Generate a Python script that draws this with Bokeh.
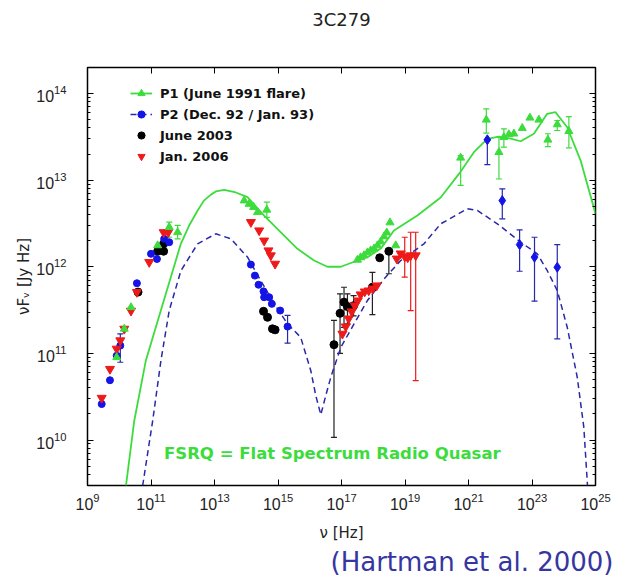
from bokeh.plotting import figure
from bokeh.models import (ColumnDataSource, Whisker, TeeHead, FixedTicker,
                          LogAxis, Label, Legend, LegendItem, Title)
from bokeh.embed import file_html
from bokeh.resources import INLINE

# ---------------- model curves ----------------
p1_model_nu = [1.63e10, 2.97e10, 6.9e10, 2.95e11, 8.7e11, 1.56e12, 2.94e12, 4.63e12,
               7.7e12, 1.1e13, 2.02e13,
               4.7e13, 1.1e14, 3.66e14, 1.23e15, 4.1e15, 1.37e16, 3.6e16, 9.5e16,
               3.2e17, 6.6e17, 1.72e18, 4.5e18, 2.45e19, 1.33e20, 5.0e20, 1.48e21,
               3.92e21, 9.1e21, 2.12e22, 4.4e22, 1.15e23, 3.0e23, 5.5e23, 1.29e24,
               3.4e24, 1.0e25]
p1_model_f = [2.97e9, 1.67e10, 8.3e10, 4.9e11, 1.84e12, 2.95e12, 4.46e12, 5.8e12,
              6.8e12, 7.4e12, 7.7e12,
              7.2e12, 6.35e12, 3.9e12, 2.5e12, 1.61e12, 1.18e12, 1.0e12, 1.0e12,
              1.18e12, 1.29e12, 1.62e12, 2.62e12, 3.9e12, 6.3e12, 1.18e13, 2.1e13,
              3.0e13, 3.18e13, 3.02e13, 2.81e13, 3.43e13, 5.83e13, 6.08e13, 4.08e13,
              1.68e13, 4.1e12]

p2_model_nu = [5.46e10, 1.13e11, 2.06e11, 3.75e11, 8.75e11, 2.94e12, 1.1e13, 3.27e13,
               1.1e14, 2.88e14, 7.55e14, 2.0e15, 5.2e15, 1.08e16, 1.55e16, 2.23e16,
               3.2e16, 4.6e16, 9.5e16, 2.48e17, 6.56e17, 2.18e18, 7.3e18, 3.96e19,
               1.33e20, 9.2e20, 1.9e21, 8.1e21, 4.4e22, 1.47e23, 3.03e23, 6.25e23,
               1.29e24, 2.66e24, 4.29e24, 5.6e24]
p2_model_f = [2.97e9, 1.67e10, 8.3e10, 3.12e11, 9.0e11, 1.84e12, 2.4e12, 2.1e12,
              1.29e12, 6.9e11, 3.73e11, 2.19e11, 1.53e11, 6.3e10, 3.26e10, 1.96e10,
              3.26e10, 5.3e10, 1.17e11, 2.19e11, 4.07e11, 7.2e11, 1.18e12, 1.84e12,
              3.13e12, 4.67e12, 4.46e12, 3.13e12, 1.92e12, 1.41e12, 9.0e11, 5.3e11,
              2.0e11, 5.3e10, 1.4e10, 2.97e9]

# ---------------- P1 (June 1991 flare) ----------------
p1_nu = [8.3e9, 1.44e10, 2.34e10, 1.62e11, 3.75e11, 6.9e11,
         8.6e13, 1.23e14, 1.7e14, 2.27e14, 4.45e14,
         3.18e17, 4.0e17, 5.1e17, 6.6e17, 8.3e17, 1.06e18, 1.36e18, 1.72e18,
         2.19e18, 2.66e18, 3.37e18, 5.1e18,
         5.66e20, 3.64e21, 9.1e21, 1.3e22, 1.87e22, 2.69e22, 4.94e22, 8.6e22,
         1.65e23, 3.16e23, 6.25e23, 1.45e24]
p1_f = [9.0e10, 1.92e11, 3.4e11, 1.76e12, 2.86e12, 2.5e12,
        5.8e12, 5.3e12, 4.87e12, 4.26e12, 4.54e12,
        1.2e12, 1.28e12, 1.35e12, 1.46e12, 1.54e12, 1.62e12, 1.76e12, 1.95e12,
        2.23e12, 2.48e12, 3.24e12, 1.76e12,
        1.81e13, 4.97e13, 2.1e13, 3.13e13, 3.37e13, 3.43e13, 3.98e13, 5.24e13,
        4.97e13, 2.92e13, 4.39e13, 3.67e13]
p1_err_nu = [3.75e11, 6.9e11, 4.45e14, 5.66e20, 3.64e21, 9.1e21, 1.3e22,
             3.16e23, 6.25e23, 1.45e24]
p1_err_lo = [2.19e12, 2.1e12, 3.72e12, 8.7e12, 3.48e13, 1.03e13, 2.4e13,
             2.44e13, 3.74e13, 2.36e13]
p1_err_hi = [3.27e12, 3.0e12, 5.56e12, 1.92e13, 6.65e13, 3.13e13, 3.91e13,
             3.43e13, 4.88e13, 5.42e13]

# ---------------- P2 (Dec. 92 / Jan. 93) ----------------
p2_nu = [2.8e9, 5.1e9, 8.3e9, 1.08e10, 3.6e10, 1.0e11, 1.54e11, 2.6e11, 3.75e11,
         1.4e14, 1.87e14, 2.44e14, 3.5e14, 3.66e14, 5.26e14, 6.4e14, 1.17e15, 2.0e15]
p2_f = [2.6e10, 4.9e10, 9.4e10, 1.23e11, 6.45e11, 1.41e12, 1.23e12, 2.1e12, 1.92e12,
        1.06e12, 7.9e11, 6.2e11, 5.2e11, 4.45e11, 4.45e11, 3.73e11, 3.12e11, 2.04e11]
p2_gamma_nu = [3.92e21, 1.16e22, 4.07e22, 1.2e23, 6.25e23]
p2_gamma_f = [2.92e13, 5.8e12, 1.8e12, 1.29e12, 9.86e11]
p2_err_nu = [1.08e10, 2.0e15, 3.92e21, 1.16e22, 4.07e22, 1.2e23, 6.25e23]
p2_err_lo = [7.9e10, 1.31e11, 1.51e13, 3.57e12, 8.87e11, 4.0e11, 1.47e11]
p2_err_hi = [1.68e11, 2.74e11, 2.92e13, 7.94e12, 2.67e12, 2.19e12, 1.8e12]

# ---------------- June 2003 ----------------
jun03_nu = [3.9e10, 1.62e11, 2.5e11, 2.5e11,
            3.5e14, 4.68e14, 6.7e14, 8.1e14,
            5.8e16, 9.0e16, 1.2e17, 1.54e17, 2.4e17, 9.4e17, 1.6e18, 3.1e18]
jun03_f = [5.1e11, 1.51e12, 1.51e12, 1.84e12,
           3.06e11, 2.61e11, 1.92e11, 1.87e11,
           1.26e11, 2.9e11, 3.9e11, 3.47e11, 3.55e11, 5.8e11, 1.27e12, 1.51e12]
jun03_err_nu = [5.8e16, 9.0e16, 1.2e17, 1.54e17, 2.4e17, 9.4e17, 3.1e18]
jun03_err_lo = [1.07e10, 1.0e11, 2.0e11, 2.19e11, 2.71e11, 2.8e11, 8.3e11]
jun03_err_hi = [2.4e11, 4.87e11, 5.8e11, 4.87e11, 4.65e11, 8.6e11, 1.51e12]

# ---------------- Jan. 2006 ----------------
jan06_nu = [2.8e9, 5.1e9, 8.3e9, 1.08e10, 1.44e10, 2.34e10, 3.6e10, 8.8e10, 2.5e11, 3.5e11,
            1.4e14, 2.55e14, 3.66e14, 5.0e14, 5.94e14, 8.1e14,
            1.07e17, 1.36e17, 1.69e17, 2.1e17, 2.61e17, 3.25e17, 4.0e17, 5.4e17,
            7.2e17, 9.6e17, 1.29e18, 5.5e18, 7.3e18, 9.8e18, 1.22e19, 1.51e19, 2.17e19]
jan06_f = [3.06e10, 6.6e10, 1.13e11, 1.41e11, 1.92e11, 3.1e11, 5.1e11, 1.13e12, 2.5e12, 2.5e12,
           3.27e12, 2.62e12, 2.0e12, 1.54e12, 1.35e12, 1.08e12,
           1.68e11, 2.04e11, 2.52e11, 3.04e11, 3.57e11, 4.07e11, 4.78e11, 5.17e11,
           5.31e11, 5.6e11, 6.07e11, 1.24e12, 1.42e12, 1.31e12, 1.28e12, 1.35e12, 1.35e12]
jan06_err_nu = [9.8e18, 1.51e19, 2.17e19]
jan06_err_lo = [7.57e11, 3.12e11, 4.85e10]
jan06_err_hi = [2.19e12, 2.5e12, 2.5e12]

# ---------------- axis ticks ----------------
x_ticks = [1e9, 1e11, 1e13, 1e15, 1e17, 1e19, 1e21, 1e23, 1e25]
y_ticks = [1e10, 1e11, 1e12, 1e13, 1e14]
y_minor = [m * 10.0 ** e for e in range(9, 15) for m in range(2, 10)]

GREEN = "#3ddc3d"
BLUE = "#1414e6"
NAVY = "#2828aa"
RED = "#ee1a1a"

p = figure(width=627, height=577, x_axis_type="log", y_axis_type="log",
           x_range=(1e9, 1e25), y_range=(2.985e9, 1.995e14),
           output_backend="svg", toolbar_location=None,
           min_border_left=87, min_border_right=32,
           min_border_top=67, min_border_bottom=92)
p.grid.visible = False
p.outline_line_color = "black"
p.outline_line_width = 1.5
p.background_fill_color = "white"
p.border_fill_color = "white"

def style_axis(ax, ticks, minor):
    ax.ticker = FixedTicker(ticks=ticks, minor_ticks=minor)
    ax.axis_line_color = None
    ax.major_tick_in = 6
    ax.major_tick_out = 0
    ax.minor_tick_in = 3
    ax.minor_tick_out = 0
    ax.major_tick_line_color = "black"
    ax.minor_tick_line_color = "black"
    ax.major_label_text_font = "Liberation Sans"
    ax.major_label_text_font_size = "16px"
    ax.major_label_text_color = "#222222"
    ax.axis_label_text_font = "DejaVu Sans"
    ax.axis_label_text_font_style = "normal"
    ax.axis_label_text_font_size = "15px"
    ax.axis_label_text_color = "#222222"

style_axis(p.xaxis[0], x_ticks, [])
style_axis(p.yaxis[0], y_ticks, y_minor)
p.xaxis[0].major_label_standoff = 7
p.xaxis[0].axis_label = "ν [Hz]"
p.xaxis[0].axis_label_standoff = 11
p.yaxis[0].major_label_standoff = 21
p.yaxis[0].axis_label = "νFᵥ [Jy Hz]"
p.yaxis[0].axis_label_standoff = 0

# mirrored tick marks on the top and right edges (no labels)
top_axis = LogAxis()
style_axis(top_axis, x_ticks, [])
top_axis.major_label_text_font_size = "1px"
top_axis.major_label_text_alpha = 0
top_axis.major_label_standoff = 0
p.add_layout(top_axis, "above")
right_axis = LogAxis()
style_axis(right_axis, y_ticks, y_minor)
right_axis.major_label_text_font_size = "1px"
right_axis.major_label_text_alpha = 0
right_axis.major_label_standoff = 0
p.add_layout(right_axis, "right")

# title above (a trailing blank line lifts it away from the frame),
# reference note below
p.add_layout(Title(text="3C279\n ", align="center", text_font="DejaVu Sans",
                   text_font_style="normal", text_font_size="18px",
                   text_line_height=1.5, text_color="#222222", standoff=12),
             "above")
p.add_layout(Title(text="(Hartman et al. 2000)", align="left", offset=243,
                   text_font="DejaVu Sans", text_font_style="normal",
                   text_font_size="26px", text_color="#3636a0", standoff=0),
             "below")

# model curves
p1_line = p.line(p1_model_nu, p1_model_f, line_color=GREEN, line_width=1.8)
p2_line = p.line(p2_model_nu, p2_model_f, line_color=NAVY, line_width=1.5,
                 line_dash="6 4")

def errbars(nu, lo, hi, color):
    src = ColumnDataSource(dict(x=nu, lo=lo, hi=hi))
    w = Whisker(base="x", lower="lo", upper="hi", source=src, dimension="height",
                line_color=color, line_width=1.2,
                upper_head=TeeHead(size=6, line_color=color, line_width=1.2),
                lower_head=TeeHead(size=6, line_color=color, line_width=1.2))
    p.add_layout(w)

errbars(jun03_err_nu, jun03_err_lo, jun03_err_hi, "#222222")
errbars(jan06_err_nu, jan06_err_lo, jan06_err_hi, RED)
errbars(p1_err_nu, p1_err_lo, p1_err_hi, GREEN)
errbars(p2_err_nu, p2_err_lo, p2_err_hi, NAVY)

jun03 = p.scatter(jun03_nu, jun03_f, marker="circle", size=8,
                  fill_color="black", line_color="black")
p2_pts = p.scatter(p2_nu, p2_f, marker="circle", size=7,
                   fill_color=BLUE, line_color=BLUE)
p.scatter(p2_gamma_nu, p2_gamma_f, marker="diamond", size=10,
          fill_color=BLUE, line_color=BLUE)
jan06 = p.scatter(jan06_nu, jan06_f, marker="inverted_triangle", size=9,
                  fill_color=RED, line_color=RED)
p1_pts = p.scatter(p1_nu, p1_f, marker="triangle", size=8,
                   fill_color=GREEN, line_color=GREEN)

legend = Legend(items=[
    LegendItem(label="P1 (June 1991 flare)", renderers=[p1_line, p1_pts]),
    LegendItem(label="P2 (Dec. 92 / Jan. 93)", renderers=[p2_line, p2_pts]),
    LegendItem(label="June 2003", renderers=[jun03]),
    LegendItem(label="Jan. 2006", renderers=[jan06]),
], location=(38, 315), orientation="vertical")
legend.label_text_font = "DejaVu Sans"
legend.label_text_font_style = "bold"
legend.label_text_font_size = "13px"
legend.label_text_color = "#111111"
legend.glyph_width = 22
legend.glyph_height = 18
legend.label_height = 18
legend.spacing = 3
legend.padding = 5
legend.margin = 0
legend.label_standoff = 8
legend.background_fill_alpha = 0
legend.border_line_alpha = 0
p.add_layout(legend)

p.add_layout(Label(x=76.5, y=32, x_units="screen", y_units="screen",
                   text="FSRQ = Flat Spectrum Radio Quasar", text_align="left",
                   text_baseline="alphabetic", text_font="DejaVu Sans",
                   text_font_style="bold", text_font_size="16.5px",
                   text_color=GREEN))

open("out.html", "w").write(file_html(p, INLINE))
